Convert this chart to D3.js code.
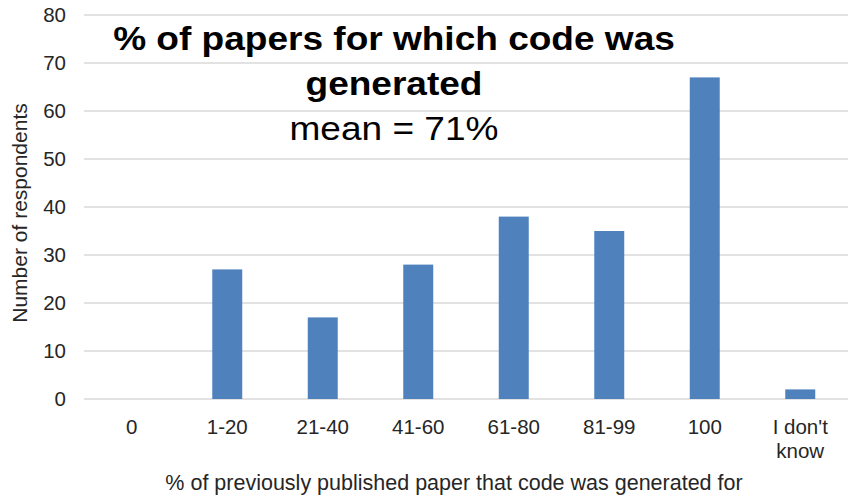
<!DOCTYPE html>
<html>
<head>
<meta charset="utf-8">
<script src="https://cdn.jsdelivr.net/npm/d3@7"></script>
<style>
  body { margin: 0; background: #fff; }
  text { font-family: "Liberation Sans", Arial, sans-serif; }
</style>
</head>
<body>
<div id="chart"></div>
<script>
const categories = ["0", "1-20", "21-40", "41-60", "61-80", "81-99", "100", "I don't know"];
const respondents = [0, 27, 17, 28, 38, 35, 67, 2];
const yTicks = [0, 10, 20, 30, 40, 50, 60, 70, 80];
const titleLines = ["% of papers for which code was", "generated"];
const subtitle = "mean = 71%";
const xTitle = "% of previously published paper that code was generated for";
const yTitle = "Number of respondents";

const width = 848, height = 498;
const margin = { top: 15, right: 0, bottom: 99, left: 84 };

const svg = d3.select("#chart").append("svg")
    .attr("width", width).attr("height", height);

const x = d3.scaleBand().domain(categories)
    .range([margin.left, width - margin.right])
    .paddingInner(0.686).paddingOuter(0.343);
const y = d3.scaleLinear().domain([0, 80]).range([height - margin.bottom, margin.top]);

// gridlines
svg.append("g").selectAll("line").data(yTicks).join("line")
    .attr("x1", margin.left).attr("x2", width - margin.right)
    .attr("y1", d => y(d)).attr("y2", d => y(d))
    .attr("stroke", "#d9d9d9").attr("stroke-width", 1.3);

// y tick labels
svg.append("g").selectAll("text").data(yTicks).join("text")
    .attr("x", 66).attr("y", d => y(d)).attr("dy", "0.35em")
    .attr("text-anchor", "end").attr("font-size", 20.5).attr("fill", "#262626")
    .text(d => d);

// bars
svg.append("g").selectAll("rect").data(respondents).join("rect")
    .attr("x", (d, i) => x(categories[i]))
    .attr("width", x.bandwidth())
    .attr("y", d => y(d))
    .attr("height", d => y(0) - y(d))
    .attr("fill", "#4f81bd");

// x tick labels
svg.append("g").selectAll("text").data(categories).join("text")
    .attr("x", d => x(d) + x.bandwidth() / 2)
    .attr("y", 434)
    .attr("text-anchor", "middle").attr("font-size", 20.5).attr("fill", "#262626")
    .each(function (d) {
        const t = d3.select(this);
        const parts = d === "I don't know" ? ["I don't", "know"] : [d];
        parts.forEach((p, i) => t.append("tspan")
            .attr("x", x(d) + x.bandwidth() / 2)
            .attr("dy", i === 0 ? 0 : 24).text(p));
    });

// axis titles
svg.append("text")
    .attr("x", 454).attr("y", 490)
    .attr("text-anchor", "middle").attr("font-size", 21.5).attr("fill", "#262626")
    .text(xTitle);

svg.append("text")
    .attr("transform", "translate(27," + 213 + ") rotate(-90)")
    .attr("text-anchor", "middle").attr("font-size", 21).attr("fill", "#262626")
    .text(yTitle);

// title block (slightly stretched horizontally like the original)
const title = svg.append("g").attr("transform", "translate(394,0) scale(1.14,1)");
titleLines.forEach((line, i) => {
    title.append("text")
        .attr("x", 0).attr("y", 50 + i * 45)
        .attr("text-anchor", "middle").attr("font-size", 32.5).attr("font-weight", "bold")
        .attr("fill", "#000").text(line);
});
title.append("text")
    .attr("x", 0).attr("y", 140)
    .attr("text-anchor", "middle").attr("font-size", 32.5).attr("fill", "#000")
    .text(subtitle);
</script>
</body>
</html>
